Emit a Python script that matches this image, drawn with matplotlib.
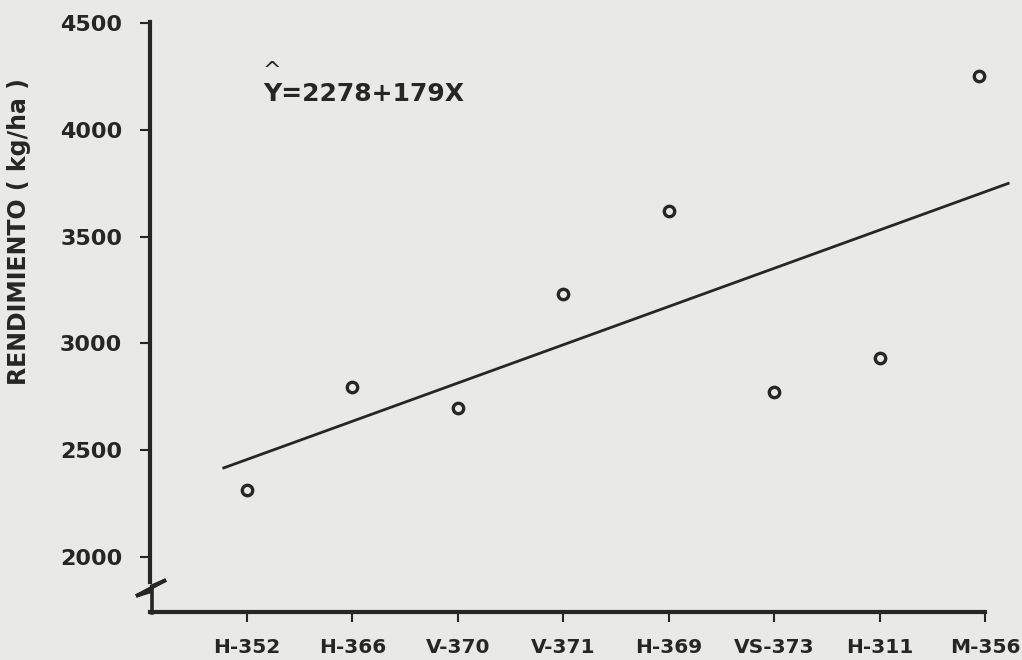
import matplotlib.pyplot as plt
from matplotlib.lines import Line2D

# Cultivars on the x axis and their mean yield (kg/ha)
cultivares = ['H-352', 'H-366', 'V-370', 'V-371', 'H-369', 'VS-373', 'H-311', 'M-356']
rendimiento = [2313, 2794, 2696, 3234, 3621, 2771, 2930, 4252]
posicion = [1, 2, 3, 4, 5, 6, 7, 7.94]

# Fitted regression Y = a + bX
a, b = 2278, 179
x_recta = [0.78, 8.22]

y_ticks = [2000, 2500, 3000, 3500, 4000, 4500]
y_tick_labels = ['2000', '2500', '3000', '3500', '4000', '4500']

paper = '#e9e9e7'
ink = '#262626'

plt.rcParams['font.family'] = 'DejaVu Sans'
plt.rcParams['font.weight'] = 'bold'

W, H = 1022, 660
fig = plt.figure(figsize=(W / 100, H / 100), dpi=100, facecolor=paper)
ax = fig.add_axes([150 / W, (H - 612) / H, (985 - 150) / W, (612 - 22) / H])
ax.set_facecolor(paper)

xs = list(range(1, len(cultivares) + 1))

# regression line
y_recta = [a + b * x for x in x_recta]
ax.plot(x_recta, y_recta, color=ink, lw=2.0, clip_on=False, zorder=2)

# observed means
ax.plot(posicion, rendimiento, linestyle='none', marker='o', markersize=7.5,
        markerfacecolor=paper, markeredgecolor=ink, markeredgewidth=2.4,
        clip_on=False, zorder=3)

ax.set_xlim(0.08, 8.0)
ax.set_ylim(1743, 4505)

ax.set_xticks(xs)
ax.set_xticklabels(cultivares)
ax.set_yticks(y_ticks)
ax.set_yticklabels(y_tick_labels)

for side in ['top', 'right']:
    ax.spines[side].set_visible(False)
ax.spines['bottom'].set_linewidth(3)
ax.spines['bottom'].set_color(ink)
ax.spines['left'].set_linewidth(3)
ax.spines['left'].set_color(ink)
ax.spines['left'].set_bounds(1885, 4505)

ax.tick_params(axis='y', direction='out', length=7, width=1.5, color=ink,
               pad=13, labelsize=16, labelcolor=ink)
ax.tick_params(axis='x', direction='out', length=7, width=1.5, color=ink,
               pad=12, labelsize=14.5, labelcolor=ink)

# axis break on the y axis
def px(x, y):
    return x / W, 1 - y / H

brk = [px(152, 586), px(166, 580), px(136, 596), px(152, 591), px(152, 613)]
fig.add_artist(Line2D([p[0] for p in brk], [p[1] for p in brk],
                      transform=fig.transFigure, color=ink, lw=2.6,
                      solid_joinstyle='miter'))

# y axis title
fig.text(19 / W, 1 - 232 / H, 'RENDIMIENTO ( kg/ha )', rotation=90,
         ha='center', va='center', fontsize=17, color=ink)

# regression equation
fig.text(263 / W, 1 - 94 / H, 'Y=2278+179X', ha='left', va='center',
         fontsize=18, color=ink)
fig.text(272 / W, 1 - 71 / H, '^', ha='center', va='center',
         fontsize=16, color=ink, fontweight='normal')

fig.savefig('out.png', dpi=100, facecolor=paper)
